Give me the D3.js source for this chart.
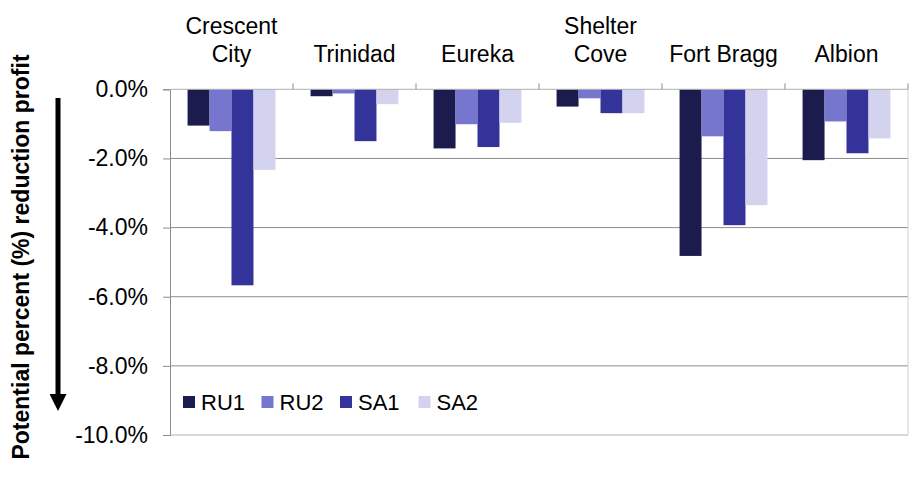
<!DOCTYPE html>
<html lang="en">
<head>
  <meta charset="utf-8">
  <title>Potential percent reduction profit</title>
  <script src="https://d3js.org/d3.v7.min.js"></script>
  <style>
    body {
      margin: 0;
      background: #fff;
      font-family: Arial, "Liberation Sans", sans-serif;
    }
  </style>
</head>
<body>
  <script>
    // chart data
    var ports = [["Crescent", "City"], ["Trinidad"], ["Eureka"], ["Shelter", "Cove"], ["Fort Bragg"], ["Albion"]];
    var series = ["RU1", "RU2", "SA1", "SA2"];
    var ru1 = [-1.05, -0.20, -1.71, -0.50, -4.82, -2.05];
    var ru2 = [-1.21, -0.12, -1.01, -0.26, -1.36, -0.93];
    var sa1 = [-5.67, -1.50, -1.67, -0.69, -3.93, -1.85];
    var sa2 = [-2.33, -0.43, -0.97, -0.69, -3.35, -1.42];
    var yTicks = [0, -2, -4, -6, -8, -10];

    var colors = ["#1b1b4d", "#7676cf", "#333399", "#d3d3f0"];
    var values = [ru1, ru2, sa1, sa2];

    var width = 915, height = 477;
    // plot box (note: "top" is reserved on window, so prefix these)
    var pLeft = 170, pRight = 908, pTop = 89.3, pBottom = 435;

    var svg = d3.select("body").append("svg")
      .attr("width", width)
      .attr("height", height);

    var x0 = d3.scaleBand()
      .domain(d3.range(ports.length))
      .range([pLeft, pRight]);

    var x1 = d3.scaleBand()
      .domain(series)
      .range([0, x0.bandwidth()])
      .paddingOuter(0.8)
      .paddingInner(0);

    var y = d3.scaleLinear()
      .domain([0, -10])
      .range([pTop, pBottom]);

    // gridlines
    svg.append("g")
      .selectAll("line")
      .data(yTicks.slice(1, -1))
      .enter().append("line")
      .attr("x1", pLeft).attr("x2", pRight)
      .attr("y1", d => y(d)).attr("y2", d => y(d))
      .attr("stroke", "#8c8c8c")
      .attr("stroke-width", 1);

    // bottom + right border
    svg.append("line")
      .attr("x1", pLeft).attr("x2", pRight)
      .attr("y1", y(-10)).attr("y2", y(-10))
      .attr("stroke", "#b0b0b0");
    svg.append("line")
      .attr("x1", pRight).attr("x2", pRight)
      .attr("y1", pTop).attr("y2", pBottom)
      .attr("stroke", "#d0d0d0");

    // bars
    var groups = svg.append("g")
      .selectAll("g")
      .data(ports)
      .enter().append("g")
      .attr("transform", (d, i) => "translate(" + x0(i) + ",0)");

    groups.selectAll("rect")
      .data((d, i) => series.map((s, j) => ({ s: s, j: j, v: values[j][i] })))
      .enter().append("rect")
      .attr("x", d => x1(d.s))
      .attr("y", y(0))
      .attr("width", x1.bandwidth())
      .attr("height", d => y(d.v) - y(0))
      .attr("fill", d => colors[d.j]);

    // y axis (plain hyphen for the minus sign, like the original)
    var yAxis = d3.axisLeft(y)
      .tickValues(yTicks)
      .tickSize(7)
      .tickPadding(15)
      .tickFormat(d => d3.format(".1f")(d).replace("\u2212", "-") + "%");

    var ya = svg.append("g")
      .attr("transform", "translate(" + pLeft + ",0)")
      .call(yAxis);
    ya.select(".domain").attr("stroke", "#8c8c8c");
    ya.selectAll(".tick line").attr("stroke", "#8c8c8c");
    ya.selectAll(".tick text")
      .attr("font-size", "23px")
      .attr("font-family", "Arial, 'Liberation Sans', sans-serif")
      .attr("fill", "#000");

    // x axis along zero line with upward separators
    var xa = svg.append("g")
      .attr("transform", "translate(0," + y(0) + ")");
    xa.append("line")
      .attr("x1", pLeft).attr("x2", pRight)
      .attr("stroke", "#b0b0b0");
    xa.selectAll(".sep")
      .data(d3.range(1, ports.length + 1))
      .enter().append("line")
      .attr("x1", d => pLeft + d * x0.step())
      .attr("x2", d => pLeft + d * x0.step())
      .attr("y1", 0).attr("y2", -6)
      .attr("stroke", "#8c8c8c");

    // category labels
    svg.append("g")
      .selectAll("text")
      .data(ports)
      .enter().append("text")
      .attr("x", (d, i) => x0(i) + x0.bandwidth() / 2)
      .attr("y", 62)
      .attr("text-anchor", "middle")
      .attr("font-size", "23px")
      .attr("fill", "#000")
      .each(function (d) {
        var t = d3.select(this);
        d.forEach(function (line, k) {
          t.append("tspan")
            .attr("x", t.attr("x"))
            .attr("dy", k === 0 ? -(d.length - 1) * 28 : 28)
            .text(line);
        });
      });

    // legend
    var legend = svg.append("g")
      .attr("transform", "translate(183,396)");
    var item = legend.selectAll("g")
      .data(series)
      .enter().append("g")
      .attr("transform", (d, i) => "translate(" + (i * 78.5) + ",0)");
    item.append("rect")
      .attr("width", 12).attr("height", 12)
      .attr("fill", (d, i) => colors[i]);
    item.append("text")
      .attr("x", 18).attr("y", 14)
      .attr("font-size", "22px")
      .attr("fill", "#000")
      .text(d => d);

    // y title
    svg.append("text")
      .attr("transform", "translate(29,257) rotate(-90)")
      .attr("text-anchor", "middle")
      .attr("font-size", "23px")
      .attr("font-weight", "bold")
      .attr("fill", "#000")
      .text("Potential percent (%) reduction profit");

    // arrow
    svg.append("defs").append("marker")
      .attr("id", "head")
      .attr("viewBox", "0 0 10 10")
      .attr("refX", 0).attr("refY", 5)
      .attr("markerWidth", 3.4).attr("markerHeight", 3.4)
      .attr("markerUnits", "strokeWidth")
      .attr("orient", "auto")
      .append("path")
      .attr("d", "M0,0L10,5L0,10Z")
      .attr("fill", "#000");
    svg.append("line")
      .attr("x1", 58).attr("x2", 58)
      .attr("y1", 98).attr("y2", 394)
      .attr("stroke", "#000")
      .attr("stroke-width", 5)
      .attr("marker-end", "url(#head)");
  </script>
</body>
</html>
